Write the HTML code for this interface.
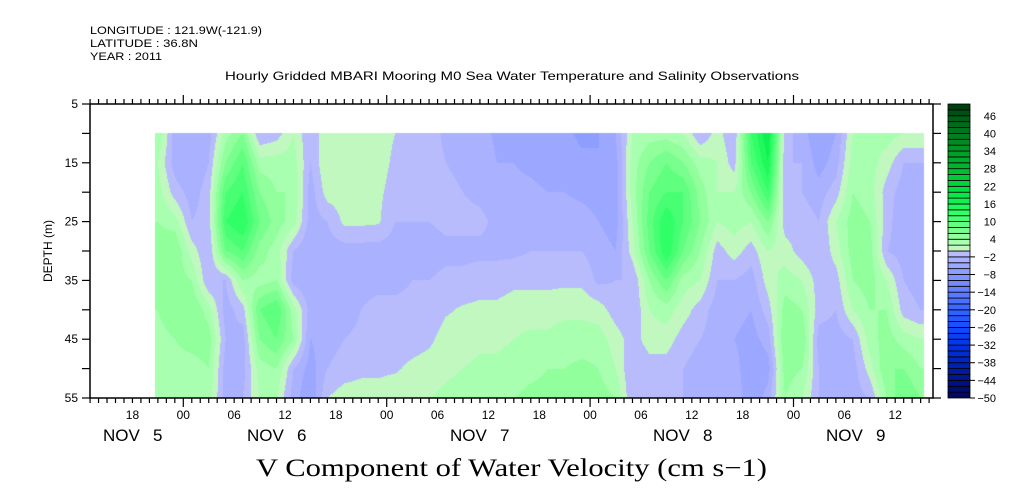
<!DOCTYPE html>
<html><head><meta charset="utf-8">
<style>
html,body{margin:0;padding:0;background:#fff;}
#wrap{position:relative;width:1009px;height:504px;overflow:hidden;}
svg{position:absolute;left:0;top:0;}
canvas{position:absolute;}
</style></head>
<body>
<div id="wrap">
<canvas id="field" width="1009" height="504" style="left:0;top:0"></canvas>
<svg id="svg" width="1009" height="504"></svg>
</div>
<script>
// hours relative to Nov 6 00:00
const times = [-3,-1,1,3,5,7,9,11,13,15,17,19,21,23,25,27,29,31,33,35,37,39,41,43,45,47,49,51,53,55,57,59,61,63,65,67,69,71,73,75,77,79,81,83,85,87];
const depths = [10,15,20,25,30,35,40,45,50,55];
// each row: one time column, values at depths 10..55 (cm/s)
const values = [
[4,2,3,4,5,4,4,3,2,2],
[-3,-3,-1,3,6,5,6,4,3,4],
[-4,-4,-3,-2,1,4,6,5,3,3],
[-3,-2,-1,-1,-2,-2,3,5,4,3],
[3,6,10,12,8,-2,-3,-2,-3,-3],
[6,10,12,14,10,4,-1,-3,-3,-2],
[-2,3,6,8,5,3,8,6,3,2],
[-1,3,4,5,3,4,10,8,4,2],
[2,3,4,3,-2,-3,3,4,-2,-3],
[-2,-2,-3,-3,-4,-4,-3,-4,-5,-6],
[2,2,1,-2,-3,-3,-3,-3,-2,0],
[1,1,1,0.5,-3,-3,-3,-2,-1,1],
[1,1,1,0.5,-3,-2.5,-2,-1.5,-0.5,1],
[1,1,0.5,0.3,-3,-2.5,-1.5,-1.5,-0.5,1],
[0,-0.5,-1,-2,-3,-2.5,-1.5,-1,-0.3,1.5],
[-1,-1,-1.5,-2,-3,-2,-1.5,-1,0.5,2],
[-1,-1,-1.5,-2,-3,-2,-1.5,-0.5,1,2],
[-2.5,-2,-1.5,-1.5,-2.5,-1.5,-0.3,1,1.5,2.5],
[-2.5,-2.5,-2,-1.5,-2.5,-1.5,0.3,1,2,3],
[-3,-2.5,-2.5,-1.5,-2.5,-1,0.5,1.5,2.5,3],
[-4.5,-4,-3,-2.5,-2.5,-1,0.5,1.5,2.5,3.5],
[-4.5,-4,-3.5,-2.5,-2.5,-0.5,1,2,3,4],
[-5,-4.5,-3.5,-2.5,-2,-0.5,1,2.5,3.5,4.5],
[-5,-5,-4,-3,-2,-0.5,1,2.5,4,4.5],
[-5.5,-5,-4,-3,-2,-0.5,1.5,3,4,5],
[-6.5,-5.5,-4.5,-3,-2,-0.5,1.5,3,4.5,6],
[-6,-6,-5,-4,-3,-2.5,1,3,4,5],
[-4,-5,-5,-5,-4,-2,-1,1,2,4],
[2,3,3,2,1,-2,-2,-1,-2,-2],
[3,6,8,9,8,4,2,1,-1,-2],
[3,8,10,14,14,8,3,1,-1,-2],
[2,6,10,10,8,3,1,-1,-2,-2],
[-2,3,5,6,4,2,-1,-2,-3,-2],
[1,2,2,2,-1,-2,-3,-3,-3,-2],
[-2,-1,2,3,1,-2,-3,-4,-3,-2],
[12,10,6,2,-1,-3,-4,-5,-6,-6],
[18,16,12,6,2,1,-1,-3,-5,-3],
[-1,-2,-2,-1,1,3,5,6,5,4],
[-3,-2,-2,-1,-1,2,4,6,4,2],
[-6,-5,-3,-2,-2,-1,-1,-3,-2,-2],
[-4,-3,-1,2,1,-1,-2,-3,-3,-3],
[2,3,4,5,5,4,2,-2,-3,-3],
[2,3,3,4,5,5,4,3,1,-2],
[3,1,-1,-1,-2,2,4,5,6,4],
[2,-2,-3,-4,-3,-2,-1,3,6,8],
[2,-2,-4,-4,-4,-3,-2,2,4,6]
];
const hourTickLabels = ["18","00","06","12","18","00","06","12","18","00","06","12","18","00","06","12","18","00","06","12"];
const hourTickHours = [-6,0,6,12,18,24,30,36,42,48,54,60,66,72,78,84,90,96,102,108];
const depthTicks = [5,15,25,35,45,55];
const cbarLabels = [46,40,34,28,22,16,10,4,-2,-8,-14,-20,-26,-32,-38,-44,-50];

const L=90,R=933,T=104,B=398;
const X0=183.3, PXH=8.475;
const xOf = h => X0 + h*PXH;
const hOf = x => (x-X0)/PXH;
const yOf = d => T + (d-5)/50*(B-T);
const dOf = y => 5 + (y-T)/(B-T)*50;

function hex(c){return [parseInt(c.slice(1,3),16),parseInt(c.slice(3,5),16),parseInt(c.slice(5,7),16)];}
const stops=[[-49,'#000860'],[-45,'#001080'],[-39,'#0020b0'],[-33,'#0030e0'],[-27,'#1048ff'],[-21,'#3060ff'],[-15,'#5878ff'],[-9,'#8094ff'],[-5,'#9ca8ff'],[-3,'#aab2ff'],[-1,'#b8bcfc'],
[1,'#c0f8c0'],[3,'#a8ffb0'],[5,'#90ff9c'],[9,'#60ff80'],[13,'#30ff68'],[17,'#10f050'],[21,'#00e040'],[27,'#00c030'],[33,'#00a028'],[39,'#008020'],[45,'#006018'],[49,'#004010']].map(s=>[s[0],hex(s[1])]);
function colorOf(v){
  let m=2*Math.floor(v/2)+1; m=Math.max(-49,Math.min(49,m));
  for(let i=0;i<stops.length-1;i++){
    const a=stops[i],b=stops[i+1];
    if(m>=a[0]&&m<=b[0]){const t=(m-a[0])/(b[0]-a[0]);return a[1].map((c,k)=>Math.round(c+(b[1][k]-c)*t));}
  }
  return stops[stops.length-1][1];
}
function sample(h,d){
  let i=0; while(i<times.length-2 && h>times[i+1]) i++;
  let tx=(h-times[i])/(times[i+1]-times[i]); tx=Math.max(0,Math.min(1,tx));
  let j=0; while(j<depths.length-2 && d>depths[j+1]) j++;
  let ty=(d-depths[j])/(depths[j+1]-depths[j]); ty=Math.max(0,Math.min(1,ty));
  const a=values[i][j],b=values[i+1][j],c=values[i][j+1],e=values[i+1][j+1];
  return (a*(1-tx)+b*tx)*(1-ty)+(c*(1-tx)+e*tx)*ty;
}
const cv=document.getElementById('field'),ctx=cv.getContext('2d');
const img=ctx.createImageData(1009,504);
const xs=Math.round(xOf(times[0]-0.3)), xe=Math.min(R-1,Math.round(xOf(times[times.length-1]+0.3)));
const ys=Math.round(yOf(depths[0])), ye=B;
for(let y=ys;y<ye;y++){for(let x=xs;x<=xe;x++){
  const c=colorOf(sample(hOf(x+0.5),dOf(y+0.5)));const p=(y*1009+x)*4;
  img.data[p]=c[0];img.data[p+1]=c[1];img.data[p+2]=c[2];img.data[p+3]=255;}}
ctx.putImageData(img,0,0);

const svg=document.getElementById('svg');const NS='http://www.w3.org/2000/svg';
const SANS='font-family:"Liberation Sans",sans-serif';
function el(tag,attrs,parent){const e=document.createElementNS(NS,tag);for(const k in attrs)e.setAttribute(k,attrs[k]);(parent||svg).appendChild(e);return e;}
function txt(s,attrs){if(!attrs.style)attrs.style=SANS;const e=el('text',attrs);e.textContent=s;return e;}

const frame=el('rect',{x:L,y:T,width:R-L,height:B-T,fill:'none',stroke:'#000','stroke-width':1.5});


for(let h=Math.ceil(hOf(L));h<=hOf(R);h++){
  const x=xOf(h), day=(((h%24)+24)%24===0);
  const tb=el('line',{x1:x,x2:x,y1:B,y2:B+(day?9:5),stroke:'#000','stroke-width':1.2});
  
  
  const tt=el('line',{x1:x,x2:x,y1:T,y2:T-(day?9:5),stroke:'#000','stroke-width':1.2});
  
  
}
hourTickHours.forEach((h,i)=>{const x=xOf(h);if(x<L+10||x>R-5)return;
  const t=txt(hourTickLabels[i],{x:x,y:419,'text-anchor':'middle','font-size':12});
  
  });
[[103,'5'],[247,'6'],[450,'7'],[653,'8'],[826,'9']].forEach(d=>{
  const a=txt('NOV',{x:d[0],y:441,'font-size':17});
  
  
  const b=txt(d[1],{x:d[0]+50,y:441,'font-size':17});
  
  
});
for(let d=5;d<=55;d+=5){const y=yOf(d);
  const a=el('line',{x1:L-8,x2:L,y1:y,y2:y,stroke:'#000','stroke-width':1.2});
  
  
  const b=el('line',{x1:R,x2:R+8,y1:y,y2:y,stroke:'#000','stroke-width':1.2});
  
  }
depthTicks.forEach(d=>{const t=txt(String(d),{x:78,y:yOf(d)+4,'text-anchor':'end','font-size':12});
  
  });
const yt=txt('DEPTH (m)',{x:0,y:0,'text-anchor':'middle','font-size':12,transform:'translate(52,251) rotate(-90)'});


[['LONGITUDE : 121.9W(-121.9)',34,172],['LATITUDE : 36.8N',47,108],['YEAR : 2011',60,72]].forEach(h=>{
  const t=txt(h[0],{x:90,y:h[1],'font-size':11,textLength:h[2],lengthAdjust:'spacingAndGlyphs'});
  
  });
const st=txt('Hourly Gridded MBARI Mooring M0 Sea Water Temperature and Salinity Observations',{x:225,y:80,'font-size':12,textLength:574,lengthAdjust:'spacingAndGlyphs'});


const mt=txt('V Component of Water Velocity (cm s\u22121)',{x:256,y:476,'font-size':25,style:'font-family:"Liberation Serif",serif',textLength:511,lengthAdjust:'spacingAndGlyphs'});


const CBL=948,CBR=970;
const cbY=v=>B-(v+50)/100*(B-T);
for(let v=-50;v<50;v+=2){const c=colorOf(v+1);
  const r=el('rect',{x:CBL,y:cbY(v+2),width:CBR-CBL,height:cbY(v)-cbY(v+2),fill:'rgb('+c.join(',')+')',stroke:'#000','stroke-width':0.8});
  
  }
cbarLabels.forEach(v=>{const y=cbY(v);
  if(v<0){const tk=el('line',{x1:CBR,x2:CBR+5,y1:y,y2:y,stroke:'#000','stroke-width':1});
    
    }
  const t=txt(v<0?'\u2212'+(-v):String(v),{x:996,y:y+4,'text-anchor':'end','font-size':11});
  
  });
</script>
</body></html>
